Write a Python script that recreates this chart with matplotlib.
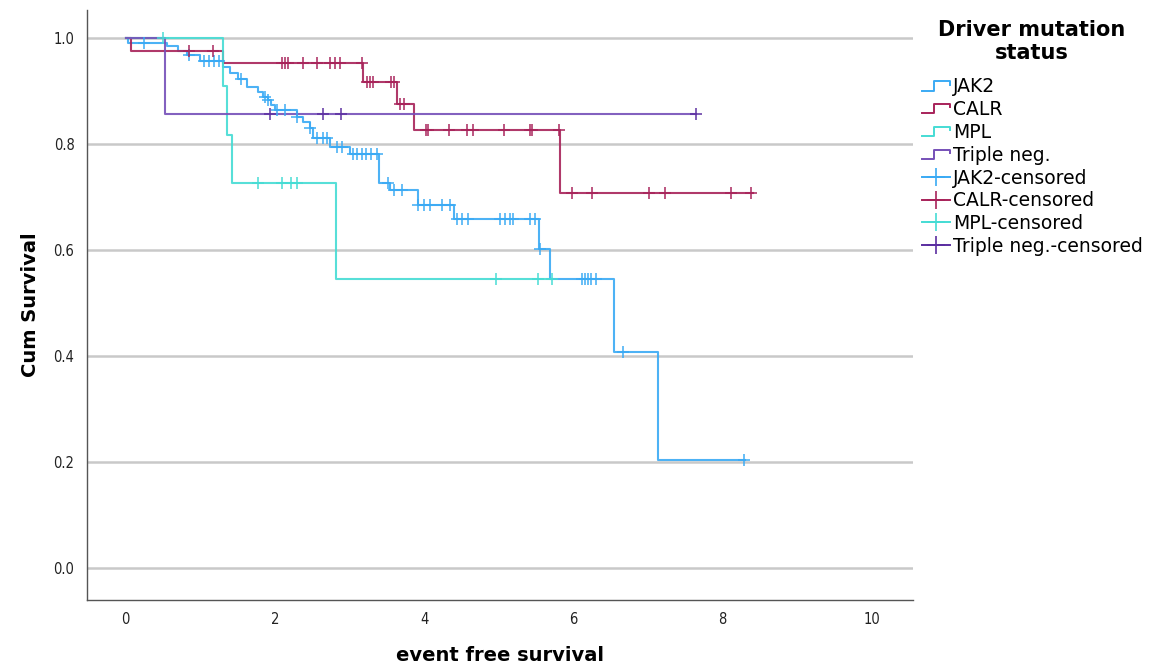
import numpy as np
import matplotlib
matplotlib.use("Agg")
import matplotlib.pyplot as plt
from matplotlib.lines import Line2D
from matplotlib.legend_handler import HandlerLine2D

# Kaplan-Meier step curves (time, survival after step)
groups = ["JAK2", "CALR", "MPL", "Triple neg."]

jak2_t = [0, 0.03, 0.55, 0.70, 0.82, 1.00, 1.30, 1.39, 1.50, 1.62, 1.77, 1.84, 1.90,
          1.95, 2.00, 2.29, 2.37, 2.47, 2.51, 2.73, 3.00, 3.40, 3.54, 3.91, 4.40,
          5.54, 5.68, 6.54, 7.13]
jak2_s = [1.0, 0.991, 0.985, 0.975, 0.968, 0.957, 0.945, 0.934, 0.923, 0.908, 0.898,
          0.889, 0.883, 0.874, 0.864, 0.851, 0.842, 0.830, 0.811, 0.795, 0.781, 0.726,
          0.713, 0.686, 0.658, 0.602, 0.545, 0.408, 0.204]
jak2_end = 8.30
jak2_cens = [0.25, 0.85, 1.05, 1.12, 1.18, 1.25, 1.54, 1.86, 1.90, 2.02, 2.13, 2.29,
             2.47, 2.56, 2.64, 2.69, 2.83, 2.90, 3.04, 3.10, 3.16, 3.22, 3.29, 3.36,
             3.51, 3.60, 3.70, 3.92, 4.00, 4.08, 4.24, 4.35, 4.44, 4.50, 4.58, 5.01,
             5.08, 5.15, 5.19, 5.42, 5.48, 5.55, 6.11, 6.15, 6.20, 6.24, 6.30, 6.66,
             8.28]

calr_t = [0, 0.07, 1.30, 3.18, 3.63, 3.86, 5.82]
calr_s = [1.0, 0.976, 0.953, 0.917, 0.875, 0.826, 0.707]
calr_end = 8.40
calr_cens = [0.85, 1.17, 2.09, 2.13, 2.17, 2.37, 2.56, 2.73, 2.80, 2.87, 3.17, 3.23,
             3.27, 3.31, 3.55, 3.60, 3.67, 3.73, 4.02, 4.05, 4.33, 4.57, 4.65, 5.07,
             5.42, 5.45, 5.80, 5.98, 6.25, 7.01, 7.22, 8.11, 8.38]

mpl_t = [0, 1.30, 1.36, 1.42, 2.82]
mpl_s = [1.0, 0.909, 0.818, 0.727, 0.545]
mpl_end = 5.71
mpl_cens = [0.50, 1.77, 2.10, 2.22, 2.30, 4.96, 5.52, 5.71]

tn_t = [0, 0.53]
tn_s = [1.0, 0.857]
tn_end = 7.64
tn_cens = [1.93, 2.64, 2.89, 7.64]

line_colors = ["#3aaaf4", "#a8235a", "#45dcd4", "#7650b8"]
cens_colors = ["#3aaaf4", "#a8235a", "#45dcd4", "#5b2ea0"]

x_ticks = [0, 2, 4, 6, 8, 10]
y_ticks = [0.0, 0.2, 0.4, 0.6, 0.8, 1.0]


class StepHandler(HandlerLine2D):
    # draws the little step glyph used in the SPSS legend
    def create_artists(self, legend, orig_handle, xdescent, ydescent, width, height,
                       fontsize, trans):
        x0, x1 = -xdescent, -xdescent + width
        xm = x0 + width * 0.45
        lo, hi = -ydescent + height * 0.15, -ydescent + height * 0.85
        mid = -ydescent + height * 0.6
        ln = Line2D([x0, xm, xm, x1, x1], [lo, lo, hi, hi, mid],
                    color=orig_handle.get_color(), lw=orig_handle.get_linewidth())
        ln.set_transform(trans)
        return [ln]


def step_xy(t, s, end):
    xs = list(t) + [end]
    ys = list(s) + [s[-1]]
    return np.array(xs), np.array(ys)


def surv_at(t, s, times):
    idx = np.searchsorted(np.array(t), np.array(times), side="right") - 1
    return np.array(s)[idx]


fig = plt.figure(figsize=(11.57, 6.66), dpi=100)
ax = fig.add_axes([87 / 1157, 66 / 666, 826 / 1157, 590 / 666])

curves = [
    (jak2_t, jak2_s, jak2_end, jak2_cens),
    (calr_t, calr_s, calr_end, calr_cens),
    (mpl_t, mpl_s, mpl_end, mpl_cens),
    (tn_t, tn_s, tn_end, tn_cens),
]

for gy in y_ticks:
    ax.axhline(gy, color="#c9c9c9", lw=1.8, zorder=0)

for (t, s, end, cens), lc, cc in zip(curves, line_colors, cens_colors):
    xs, ys = step_xy(t, s, end)
    ax.step(xs, ys, where="post", color=lc, lw=1.5, alpha=0.9, zorder=2)
    ax.plot(cens, surv_at(t, s, cens), linestyle="none", marker="+", markersize=9,
            mew=1.2, color=cc, alpha=0.9, zorder=3)

ax.set_xlim(-0.52, 10.55)
ax.set_ylim(-0.06, 1.053)
ax.set_xticks(x_ticks)
ax.set_xticklabels([str(v) for v in x_ticks])
ax.set_yticks(y_ticks)
ax.set_yticklabels([f"{v:.1f}" for v in y_ticks])
ax.tick_params(length=0, labelsize=10.5, colors="#222222", pad=9)
for lab in ax.get_xticklabels() + ax.get_yticklabels():
    lab.set_fontstretch("condensed")

for side in ["top", "right"]:
    ax.spines[side].set_visible(False)
for side in ["left", "bottom"]:
    ax.spines[side].set_color("#555555")
    ax.spines[side].set_linewidth(1.0)

ax.set_xlabel("event free survival", fontsize=14, fontweight="bold", labelpad=13)
ax.set_ylabel("Cum Survival", fontsize=14, fontweight="bold", labelpad=10)

handles = []
labels = []
for g, lc in zip(groups, line_colors):
    handles.append(Line2D([], [], color=lc, lw=1.4))
    labels.append(g)
for g, cc in zip(groups, cens_colors):
    handles.append(Line2D([], [], color=cc, lw=1.4, marker="+", markersize=13, mew=1.2))
    labels.append(g + "-censored")

fig.text(1032 / 1157, 1 - 30 / 666, "Driver mutation", ha="center", va="center",
         fontsize=15, fontweight="bold")
fig.text(1032 / 1157, 1 - 53 / 666, "status", ha="center", va="center",
         fontsize=15, fontweight="bold")

hmap = {h: StepHandler() for h in handles[:4]}
leg = fig.legend(handles, labels, handler_map=hmap, loc="upper left",
                 bbox_to_anchor=(914 / 1157, 1 - 70 / 666), frameon=False,
                 fontsize=13.5, handlelength=1.5, handletextpad=0.2,
                 labelspacing=0.2, borderaxespad=0)

fig.savefig("out.png", dpi=100)
